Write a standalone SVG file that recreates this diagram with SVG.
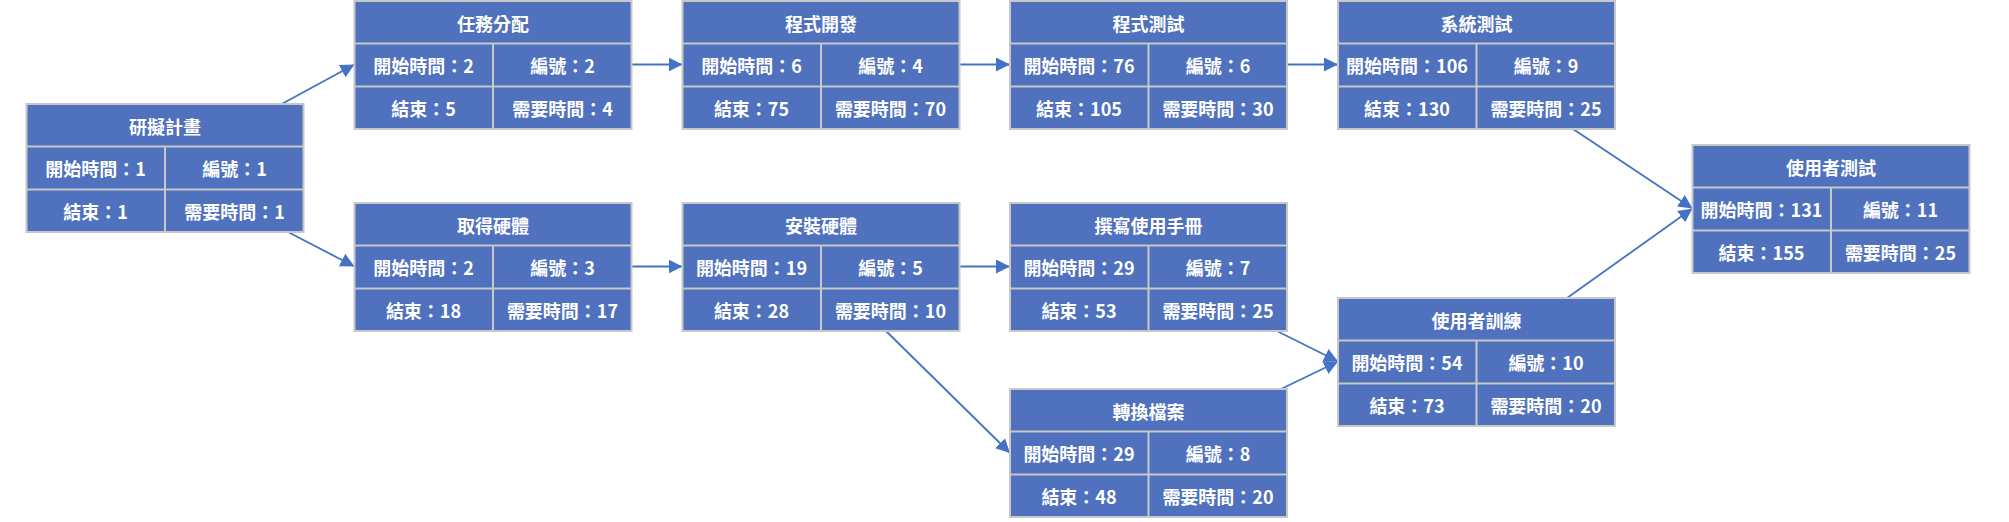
<svg xmlns="http://www.w3.org/2000/svg" width="2009" height="522" viewBox="0 0 2009 522">
<style>
.box{fill:#4F71BE;stroke:#C8C8C8;stroke-width:2}
.div{stroke:#C8C8C8;stroke-width:2}
text{font-family:"Noto Sans CJK TC","Noto Sans CJK SC",sans-serif;font-size:18px;font-weight:bold;fill:#FFFFFF;text-anchor:middle;dominant-baseline:central}
.conn{stroke:#4472C4;stroke-width:1.8;fill:none;marker-end:url(#ah)}
</style>
<defs>
<marker id="ah" markerUnits="userSpaceOnUse" markerWidth="16" markerHeight="16" refX="14" refY="7" orient="auto">
<path d="M0,0 L14,7 L0,14 Z" fill="#4472C4"/>
</marker>
</defs>
<rect width="2009" height="522" fill="#FFFFFF"/>
<g id="connectors">
<line class="conn" x1="281.7" y1="104" x2="354.5" y2="64.5"/>
<line class="conn" x1="288" y1="232" x2="354.5" y2="266.5"/>
<line class="conn" x1="631.5" y1="64.5" x2="682.5" y2="64.5"/>
<line class="conn" x1="959.5" y1="64.5" x2="1010" y2="64.5"/>
<line class="conn" x1="1287" y1="64.5" x2="1338" y2="64.5"/>
<line class="conn" x1="631.5" y1="266.5" x2="682.5" y2="266.5"/>
<line class="conn" x1="959.5" y1="266.5" x2="1010" y2="266.5"/>
<line class="conn" x1="886" y1="331" x2="1010" y2="453"/>
<line class="conn" x1="1277" y1="331" x2="1338" y2="361.5"/>
<line class="conn" x1="1281" y1="389" x2="1338" y2="361.5"/>
<line class="conn" x1="1573" y1="129" x2="1692.5" y2="208.5"/>
<line class="conn" x1="1567" y1="298" x2="1692.5" y2="208.5"/>
</g>
<g id="n1" transform="translate(26.5,104)">
<rect class="box" width="277" height="128"/><line class="div" x1="0" y1="42.5" x2="277" y2="42.5"/><line class="div" x1="0" y1="85.5" x2="277" y2="85.5"/><line class="div" x1="138.5" y1="42.5" x2="138.5" y2="128"/>
<text x="138.5" y="21.5">研擬計畫</text><text x="69" y="64">開始時間：1</text><text x="208" y="64">編號：1</text><text x="69" y="107">結束：1</text><text x="208" y="107">需要時間：1</text>
</g>
<g id="n2" transform="translate(354.5,1)">
<rect class="box" width="277" height="128"/><line class="div" x1="0" y1="42.5" x2="277" y2="42.5"/><line class="div" x1="0" y1="85.5" x2="277" y2="85.5"/><line class="div" x1="138.5" y1="42.5" x2="138.5" y2="128"/>
<text x="138.5" y="21.5">任務分配</text><text x="69" y="64">開始時間：2</text><text x="208" y="64">編號：2</text><text x="69" y="107">結束：5</text><text x="208" y="107">需要時間：4</text>
</g>
<g id="n3" transform="translate(682.5,1)">
<rect class="box" width="277" height="128"/><line class="div" x1="0" y1="42.5" x2="277" y2="42.5"/><line class="div" x1="0" y1="85.5" x2="277" y2="85.5"/><line class="div" x1="138.5" y1="42.5" x2="138.5" y2="128"/>
<text x="138.5" y="21.5">程式開發</text><text x="69" y="64">開始時間：6</text><text x="208" y="64">編號：4</text><text x="69" y="107">結束：75</text><text x="208" y="107">需要時間：70</text>
</g>
<g id="n4" transform="translate(1010,1)">
<rect class="box" width="277" height="128"/><line class="div" x1="0" y1="42.5" x2="277" y2="42.5"/><line class="div" x1="0" y1="85.5" x2="277" y2="85.5"/><line class="div" x1="138.5" y1="42.5" x2="138.5" y2="128"/>
<text x="138.5" y="21.5">程式測試</text><text x="69" y="64">開始時間：76</text><text x="208" y="64">編號：6</text><text x="69" y="107">結束：105</text><text x="208" y="107">需要時間：30</text>
</g>
<g id="n5" transform="translate(1338,1)">
<rect class="box" width="277" height="128"/><line class="div" x1="0" y1="42.5" x2="277" y2="42.5"/><line class="div" x1="0" y1="85.5" x2="277" y2="85.5"/><line class="div" x1="138.5" y1="42.5" x2="138.5" y2="128"/>
<text x="138.5" y="21.5">系統測試</text><text x="69" y="64">開始時間：106</text><text x="208" y="64">編號：9</text><text x="69" y="107">結束：130</text><text x="208" y="107">需要時間：25</text>
</g>
<g id="n6" transform="translate(354.5,203)">
<rect class="box" width="277" height="128"/><line class="div" x1="0" y1="42.5" x2="277" y2="42.5"/><line class="div" x1="0" y1="85.5" x2="277" y2="85.5"/><line class="div" x1="138.5" y1="42.5" x2="138.5" y2="128"/>
<text x="138.5" y="21.5">取得硬體</text><text x="69" y="64">開始時間：2</text><text x="208" y="64">編號：3</text><text x="69" y="107">結束：18</text><text x="208" y="107">需要時間：17</text>
</g>
<g id="n7" transform="translate(682.5,203)">
<rect class="box" width="277" height="128"/><line class="div" x1="0" y1="42.5" x2="277" y2="42.5"/><line class="div" x1="0" y1="85.5" x2="277" y2="85.5"/><line class="div" x1="138.5" y1="42.5" x2="138.5" y2="128"/>
<text x="138.5" y="21.5">安裝硬體</text><text x="69" y="64">開始時間：19</text><text x="208" y="64">編號：5</text><text x="69" y="107">結束：28</text><text x="208" y="107">需要時間：10</text>
</g>
<g id="n8" transform="translate(1010,203)">
<rect class="box" width="277" height="128"/><line class="div" x1="0" y1="42.5" x2="277" y2="42.5"/><line class="div" x1="0" y1="85.5" x2="277" y2="85.5"/><line class="div" x1="138.5" y1="42.5" x2="138.5" y2="128"/>
<text x="138.5" y="21.5">撰寫使用手冊</text><text x="69" y="64">開始時間：29</text><text x="208" y="64">編號：7</text><text x="69" y="107">結束：53</text><text x="208" y="107">需要時間：25</text>
</g>
<g id="n9" transform="translate(1010,389)">
<rect class="box" width="277" height="128"/><line class="div" x1="0" y1="42.5" x2="277" y2="42.5"/><line class="div" x1="0" y1="85.5" x2="277" y2="85.5"/><line class="div" x1="138.5" y1="42.5" x2="138.5" y2="128"/>
<text x="138.5" y="21.5">轉換檔案</text><text x="69" y="64">開始時間：29</text><text x="208" y="64">編號：8</text><text x="69" y="107">結束：48</text><text x="208" y="107">需要時間：20</text>
</g>
<g id="n10" transform="translate(1338,298)">
<rect class="box" width="277" height="128"/><line class="div" x1="0" y1="42.5" x2="277" y2="42.5"/><line class="div" x1="0" y1="85.5" x2="277" y2="85.5"/><line class="div" x1="138.5" y1="42.5" x2="138.5" y2="128"/>
<text x="138.5" y="21.5">使用者訓練</text><text x="69" y="64">開始時間：54</text><text x="208" y="64">編號：10</text><text x="69" y="107">結束：73</text><text x="208" y="107">需要時間：20</text>
</g>
<g id="n11" transform="translate(1692.5,145)">
<rect class="box" width="277" height="128"/><line class="div" x1="0" y1="42.5" x2="277" y2="42.5"/><line class="div" x1="0" y1="85.5" x2="277" y2="85.5"/><line class="div" x1="138.5" y1="42.5" x2="138.5" y2="128"/>
<text x="138.5" y="21.5">使用者測試</text><text x="69" y="64">開始時間：131</text><text x="208" y="64">編號：11</text><text x="69" y="107">結束：155</text><text x="208" y="107">需要時間：25</text>
</g>
</svg>
